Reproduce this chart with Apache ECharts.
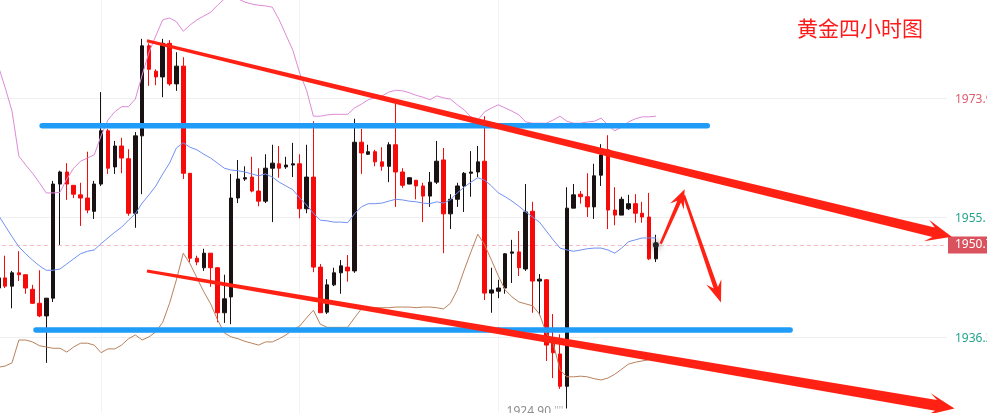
<!DOCTYPE html>
<html><head><meta charset="utf-8">
<script src="https://cdn.jsdelivr.net/npm/echarts@6/dist/echarts.min.js"></script>
<style>html,body{margin:0;padding:0;background:#fff}#c{width:987px;height:413px}</style>
</head><body><div id="c"></div>
<script>
// ---- data (4h gold candles) ----
const slotCount = 139;
const categories = Array.from({length: slotCount}, (_, i) => String(i));

const opens = [1943.9,1945.5,1944.2,1946.3,1946.0,1943.7,1941.5,1939.5,1942.3,1960.3,
1962.2,1960.1,1958.6,1958.1,1956.0,1960.3,1968.7,1963.0,1966.3,1964.3,
1955.7,1967.9,1982.1,1978.1,1977.2,1982.5,1976.1,1978.9,1962.0,1948.6,
1947.1,1949.4,1947.1,1940.0,1942.5,1958.1,1961.1,1961.4,1959.2,1957.6,
1962.8,1963.5,1963.0,1963.3,1963.5,1956.4,1961.4,1947.2,1940.1,1944.4,
1946.3,1947.2,1946.6,1966.9,1965.0,1965.4,1963.8,1963.1,1966.5,1962.2,
1960.3,1960.9,1960.0,1958.4,1960.6,1964.1,1955.6,1957.9,1960.0,1962.0,
1962.2,1963.9,1943.1,1943.4,1943.9,1949.4,1949.6,1946.9,1956.0,1945.0,
1945.2,1935.5,1933.5,1928.4,1956.5,1958.7,1958.3,1956.7,1961.7,1965.7,
1956.2,1955.4,1956.4,1957.2,1955.7,1955.1,1948.5];

const closes = [1945.5,1944.2,1946.3,1946.0,1943.9,1941.5,1939.5,1942.3,1960.3,1962.2,
1960.3,1958.7,1958.1,1956.2,1960.3,1968.7,1962.8,1966.3,1964.4,1955.7,
1967.9,1982.1,1978.4,1977.2,1982.5,1976.1,1978.9,1962.0,1948.6,1948.0,
1949.4,1947.1,1940.0,1942.2,1958.1,1961.1,1961.3,1959.2,1957.6,1962.8,
1963.6,1962.8,1963.3,1963.5,1956.4,1961.4,1947.2,1940.0,1944.4,1946.3,
1947.4,1946.6,1966.9,1965.2,1965.4,1963.8,1963.1,1966.5,1962.2,1960.1,
1961.3,1960.0,1958.4,1960.6,1963.9,1955.6,1957.9,1960.0,1962.0,1962.2,
1963.8,1943.1,1943.6,1943.9,1949.3,1949.6,1947.1,1955.9,1945.0,1945.3,
1934.9,1933.7,1928.4,1956.5,1958.6,1958.3,1956.7,1961.6,1964.9,1956.2,
1955.4,1957.9,1957.2,1955.7,1955.1,1948.5,1950.7];

const lows = [1943.6,1943.9,1940.7,1945.0,1943.0,1941.4,1939.3,1932.1,1941.7,1950.7,
1957.8,1958.1,1953.7,1955.7,1954.8,1960.0,1961.9,1961.9,1962.0,1955.3,
1953.4,1958.7,1975.8,1975.9,1974.0,1975.8,1975.0,1961.1,1948.0,1947.5,
1946.6,1944.1,1938.5,1938.4,1938.2,1957.3,1960.8,1959.0,1956.8,1957.3,
1954.3,1961.3,1962.7,1961.4,1954.9,1955.7,1946.4,1940.0,1939.8,1944.2,
1943.0,1944.9,1946.3,1961.9,1964.9,1963.1,1962.4,1960.6,1956.7,1959.7,
1960.3,1957.9,1954.3,1956.7,1960.3,1949.4,1953.2,1956.7,1955.9,1958.3,
1961.4,1942.0,1940.0,1942.3,1943.0,1944.7,1945.8,1946.6,1940.0,1939.6,
1932.4,1929.7,1928.0,1924.9,1956.5,1957.2,1955.1,1954.8,1960.0,1953.2,
1953.8,1955.4,1956.2,1954.2,1954.2,1948.3,1948.0];

const highs = [1945.8,1949.0,1946.6,1949.7,1946.0,1944.4,1946.7,1942.3,1960.8,1962.4,
1963.6,1960.1,1960.5,1965.4,1960.8,1974.8,1969.0,1967.1,1967.6,1965.8,
1968.5,1983.2,1982.5,1978.4,1983.2,1983.0,1981.1,1980.3,1962.0,1949.0,
1950.1,1949.4,1947.2,1946.0,1961.9,1964.1,1963.1,1964.6,1962.8,1965.0,
1966.5,1966.3,1964.6,1966.8,1965.0,1966.5,1970.2,1947.7,1945.3,1947.1,
1948.3,1949.1,1970.6,1969.0,1966.5,1965.7,1966.1,1966.9,1973.1,1962.8,
1961.3,1960.9,1960.5,1962.2,1967.1,1966.0,1958.7,1960.5,1962.2,1965.5,
1966.3,1971.0,1947.1,1945.2,1949.4,1951.5,1952.9,1960.3,1957.5,1946.1,
1945.3,1939.8,1936.6,1959.8,1960.3,1959.2,1962.0,1963.5,1966.6,1968.0,
1959.8,1958.3,1958.6,1958.7,1957.5,1958.9,1952.3];

const bollUpper = [1978.9,1975.5,1971.8,1964.7,1963.3,1962.0,1960.5,1958.9,1958.9,1959.0,
1961.1,1962.8,1963.9,1964.4,1964.9,1967.9,1970.4,1971.7,1972.5,1972.5,
1973.7,1977.5,1981.1,1983.7,1986.2,1986.5,1985.9,1984.4,1985.4,1986.2,
1986.8,1987.4,1988.5,1989.5,1989.8,1989.5,1989.0,1988.7,1988.5,1988.4,
1988.2,1986.2,1983.8,1981.4,1977.8,1975.1,1971.0,1971.0,1971.2,1971.3,
1971.3,1971.3,1972.3,1972.9,1973.6,1973.9,1974.2,1974.8,1975.1,1975.0,
1974.7,1974.3,1974.0,1973.6,1974.2,1973.9,1973.7,1972.8,1972.0,1970.9,
1970.4,1971.7,1972.3,1972.8,1972.3,1971.8,1971.2,1970.1,1969.9,1969.9,
1969.9,1970.4,1971.0,1970.2,1969.9,1969.9,1970.1,1970.2,1970.7,1969.6,
1968.7,1969.3,1970.1,1970.6,1970.9,1970.9,1971.0];

const bollMid = [1955.4,1953.7,1952.0,1950.4,1949.3,1948.3,1947.4,1946.7,1946.7,1946.9,
1947.7,1948.5,1949.3,1949.7,1949.9,1950.9,1951.8,1952.7,1953.5,1954.6,
1955.6,1957.3,1958.6,1960.0,1961.9,1963.6,1966.0,1966.8,1966.1,1965.7,
1965.0,1964.4,1963.6,1962.8,1962.5,1962.4,1962.2,1961.9,1961.6,1961.9,
1961.4,1960.6,1960.0,1959.4,1958.1,1957.0,1955.7,1954.6,1954.5,1954.3,
1954.3,1954.2,1955.6,1956.7,1957.2,1957.2,1957.3,1957.6,1957.9,1957.8,
1957.6,1957.5,1957.3,1957.2,1957.5,1957.3,1957.8,1958.9,1959.8,1960.6,
1961.3,1960.9,1960.0,1958.9,1958.3,1957.6,1956.8,1955.9,1955.1,1954.3,
1952.9,1951.5,1950.2,1949.9,1949.7,1949.9,1950.1,1950.2,1950.2,1949.9,
1949.4,1950.2,1951.2,1951.5,1951.8,1951.8,1951.8];

const bollLower = [1931.4,1931.6,1932.1,1935.7,1935.7,1935.4,1934.8,1934.6,1934.4,1934.4,
1933.8,1934.6,1935.2,1935.2,1934.9,1933.7,1934.3,1934.3,1934.9,1935.9,
1936.5,1935.7,1936.2,1937.0,1938.5,1941.5,1945.2,1949.4,1947.7,1945.5,
1943.3,1941.4,1938.9,1936.8,1936.2,1935.9,1935.5,1935.2,1934.9,1935.4,
1935.4,1935.9,1936.5,1937.3,1937.9,1939.2,1940.4,1938.2,1937.7,1937.7,
1937.7,1937.7,1939.2,1940.6,1940.7,1940.8,1940.8,1940.8,1940.9,1940.9,
1940.9,1940.8,1940.9,1940.9,1940.8,1940.6,1941.5,1943.6,1946.7,1949.6,
1952.4,1950.7,1948.3,1945.8,1943.6,1942.5,1941.7,1941.4,1941.1,1939.8,
1936.8,1935.2,1931.0,1929.9,1929.9,1930.0,1929.9,1929.6,1929.4,1929.7,
1930.3,1931.1,1931.9,1932.2,1932.4,1932.6,1932.6];

const priceTicks = [1973.9, 1955.1, 1936.2];
const timeGridIdx = [15, 44, 73];
const lastPrice = closes[closes.length - 1];

// hand-drawn annotations in data coordinates: [index0, price0, index1, price1]
const trendArrows = [[21.7, 1982.9, 139.2, 1952.0], [21.7, 1946.6, 139.6, 1924.9]];
const forecastArrows = [[96.7, 1950.9, 100.2, 1959.5], [100.1, 1958.5, 105.5, 1941.6]];
const levelLines = [[6.4, 1969.5, 103.5, 1969.5], [5.5, 1937.3, 115.6, 1937.3]];

// ---- styles ----
const trendStyle = [{w0: 3, w1: 10, head: 26, hw: 22}, {w0: 3, w1: 11, head: 26, hw: 22}];
const forecastStyle = [{w0: 2.5, w1: 4, head: 19, hw: 15}, {w0: 2.5, w1: 4.5, head: 22, hw: 16}];
const arrowColor = '#ff2214';
const tickColors = ['#e05a6c', '#23a38b', '#23a38b'];
const FONT = '"Noto Sans", sans-serif';

const candleData = opens.map((o, i) => [o, closes[i], lows[i], highs[i]]);

function makeArrowRenderer(styles) {
  return function (params, api) {
    const st = styles[params.dataIndex];
    const a = api.coord([api.value(0), api.value(1)]);
    const b = api.coord([api.value(2), api.value(3)]);
    const dx = b[0] - a[0], dy = b[1] - a[1];
    const L = Math.hypot(dx, dy);
    const ux = dx / L, uy = dy / L, nx = -uy, ny = ux;
    const hb = [b[0] - ux * st.head, b[1] - uy * st.head];
    const hj = [b[0] - ux * st.head * 0.72, b[1] - uy * st.head * 0.72];
    const P = (p, k) => [p[0] + nx * k, p[1] + ny * k];
    return {
      type: 'polygon',
      shape: {points: [P(a, st.w0 / 2), P(hj, st.w1 / 2), P(hb, st.hw / 2), b,
                       P(hb, -st.hw / 2), P(hj, -st.w1 / 2), P(a, -st.w0 / 2)]},
      style: {fill: arrowColor}
    };
  };
}

const hLineData = priceTicks.map((v, i) => ({
  yAxis: v,
  lineStyle: {color: '#efeff2', width: 1, type: 'solid'},
  label: {show: true, position: 'end', distance: 8, offset: [0, 2], formatter: String(v),
          color: tickColors[i], fontSize: 12, fontFamily: FONT}
}));
const vLineData = timeGridIdx.map(i => ({
  xAxis: categories[i],
  lineStyle: {color: '#f3f3f6', width: 1, type: 'solid'},
  label: {show: false}
}));
const priceLine = {
  yAxis: lastPrice,
  lineStyle: {color: '#f6bcc2', width: 1, type: [4, 3]},
  label: {show: true, position: 'end', distance: 1, formatter: lastPrice.toFixed(1),
          color: '#fff', backgroundColor: '#d9525e', padding: [3, 8, 2, 7],
          fontSize: 12, fontFamily: FONT}
};

const chart = echarts.init(document.getElementById('c'), null, {renderer: 'canvas'});
chart.setOption({
  animation: false,
  backgroundColor: '#ffffff',
  title: {
    text: '黄金四小时图', left: 797, top: 18, padding: 0,
    textStyle: {color: '#ff1a1a', fontSize: 21, fontWeight: 'normal',
                fontFamily: '"Noto Sans CJK SC", sans-serif'}
  },
  grid: {left: -5.1, right: 40, top: 0, bottom: 0, containLabel: false, outerBoundsMode: 'none'},
  xAxis: [
    {type: 'category', data: categories, boundaryGap: true,
     axisLine: {show: false}, axisTick: {show: false}, axisLabel: {show: false}, splitLine: {show: false}},
    {type: 'value', min: -0.5, max: slotCount - 0.5, show: false, splitLine: {show: false}}
  ],
  yAxis: [{
    type: 'value', position: 'right', min: 1924.19, max: 1989.33, scale: true,
    axisLine: {show: true, lineStyle: {color: '#ececec', width: 1}},
    axisTick: {show: false}, axisLabel: {show: false}, splitLine: {show: false}
  }],
  series: [
    {
      type: 'candlestick', name: 'XAUUSD 4H', data: candleData, barWidth: 4, z: 2,
      itemStyle: {color: '#1a1212', color0: '#f70a0a', borderColor: '#1a1212', borderColor0: '#f70a0a', borderWidth: 1},
      markLine: {
        silent: true, symbol: ['none', 'none'], z: 1, animation: false,
        data: vLineData.concat(hLineData, [priceLine])
      },
      markPoint: {
        silent: true, animation: false, z: 4,
        data: [
          {type: 'min', valueDim: 'lowest', symbol: 'circle', symbolSize: 1,
           itemStyle: {color: 'rgba(0,0,0,0)'},
           label: {show: true, position: 'left', distance: 3, offset: [0, 3],
                   formatter: p => '{a|' + Number(p.value).toFixed(2) + '} {b|\'\'\'\'}',
                   rich: {a: {color: '#8c8c8c', fontSize: 12, fontFamily: FONT},
                          b: {color: '#aaaaaa', fontSize: 10, fontFamily: FONT}}}},
          {coord: [categories[closes.length - 1], lastPrice], symbol: 'circle', symbolSize: 6,
           itemStyle: {color: '#222', shadowBlur: 7, shadowColor: 'rgba(0,0,0,0.7)'},
           label: {show: false}}
        ]
      }
    },
    {type: 'line', name: 'UP', data: bollUpper, showSymbol: false, symbol: 'none', z: 3,
     lineStyle: {color: '#de8ad6', width: 1}},
    {type: 'line', name: 'MID', data: bollMid, showSymbol: false, symbol: 'none', z: 3,
     lineStyle: {color: '#7290f2', width: 1}},
    {type: 'line', name: 'DN', data: bollLower, showSymbol: false, symbol: 'none', z: 3,
     lineStyle: {color: '#b9825c', width: 1}},
    {
      type: 'custom', name: 'levels', xAxisIndex: 1, yAxisIndex: 0, data: levelLines,
      encode: {x: [0, 2], y: [1, 3]}, clip: false, silent: true, z: 5,
      renderItem: function (params, api) {
        const a = api.coord([api.value(0), api.value(1)]);
        const b = api.coord([api.value(2), api.value(3)]);
        return {type: 'line', shape: {x1: a[0], y1: a[1], x2: b[0], y2: b[1]},
                style: {stroke: '#1e9cf8', lineWidth: 5.5, lineCap: 'round'}};
      }
    },
    {
      type: 'custom', name: 'trend', xAxisIndex: 1, yAxisIndex: 0, data: trendArrows,
      encode: {x: [0, 2], y: [1, 3]}, clip: false, silent: true, z: 6,
      renderItem: makeArrowRenderer(trendStyle)
    },
    {
      type: 'custom', name: 'forecast', xAxisIndex: 1, yAxisIndex: 0, data: forecastArrows,
      encode: {x: [0, 2], y: [1, 3]}, clip: false, silent: true, z: 6,
      renderItem: makeArrowRenderer(forecastStyle)
    }
  ]
});
</script></body></html>
